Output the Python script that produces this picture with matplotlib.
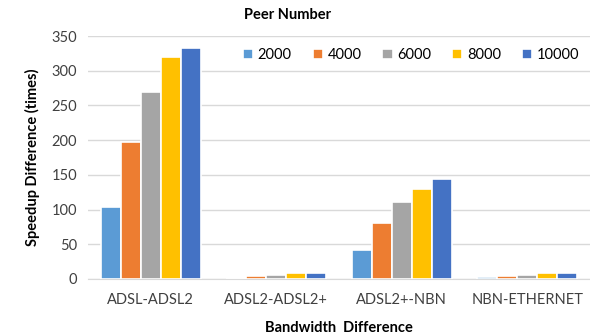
import numpy as np
import matplotlib.pyplot as plt

# speedup per bandwidth step, one list per peer count
categories = ['ADSL-ADSL2', 'ADSL2-ADSL2+', 'ADSL2+-NBN', 'NBN-ETHERNET']
peers = ['2000', '4000', '6000', '8000', '10000']
p2000 = [104, 0.5, 42, 2.5]
p4000 = [197, 4, 81, 4]
p6000 = [270, 6, 111, 6]
p8000 = [320, 8, 130, 8]
p10000 = [333, 8, 144, 8]
series = [p2000, p4000, p6000, p8000, p10000]
colors = ['#5B9BD5', '#ED7D31', '#A5A5A5', '#FFC000', '#4472C4']

plt.rcParams['font.family'] = ['Lato', 'DejaVu Sans']

fig = plt.figure(figsize=(5.9, 3.36), dpi=100)
ax = fig.add_axes([88 / 590, 57 / 336, 502 / 590, 243 / 336])

x = np.arange(len(categories))
w = 0.159
for i, (vals, c, lab) in enumerate(zip(series, colors, peers)):
    ax.bar(x + (i - 2) * w, vals, width=w, color=c, edgecolor='white',
           linewidth=1.2, label=lab, zorder=3)

ax.set_xlim(-0.5, 3.5)
ax.set_ylim(0, 350)
ax.set_yticks(range(0, 351, 50))
ax.set_xticks(x)
ax.set_xticklabels(categories)
ax.tick_params(length=0, labelsize=10.5, colors='#404040')
ax.tick_params(axis='x', pad=10)
ax.tick_params(axis='y', pad=8)
ax.grid(axis='y', color='#D9D9D9', linewidth=1, zorder=0)
for s in ['top', 'right', 'left']:
    ax.spines[s].set_visible(False)
ax.spines['bottom'].set_color('#D9D9D9')

ax.set_ylabel('Speedup Difference (times)', fontsize=10.5, fontweight='bold', labelpad=8)
ax.set_xlabel('Bandwidth  Difference', fontsize=10.5, fontweight='bold', labelpad=10)
fig.text(288 / 590, 1 - 15 / 336, 'Peer Number', ha='center', va='center',
         fontsize=10.5, fontweight='bold')

leg = ax.legend(ncol=5, loc='center', bbox_to_anchor=((411 - 88) / 502, (279 - 55) / 243),
                frameon=True, fancybox=False, edgecolor='none', facecolor='white',
                framealpha=1, fontsize=10.5, handlelength=0.7, handleheight=0.7,
                handletextpad=0.3, columnspacing=1.45, borderpad=0.3)

fig.savefig('out.png')
